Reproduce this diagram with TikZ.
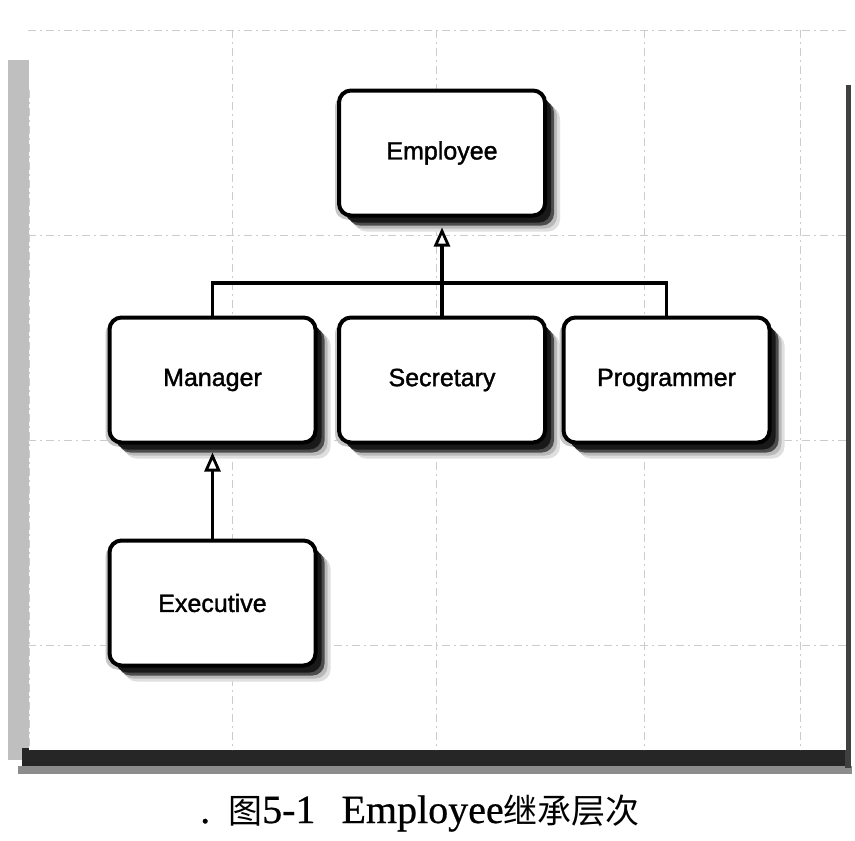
\documentclass[tikz,border=0pt]{standalone}
\usepackage{fontspec}
\setmainfont{Liberation Serif}[FakeBold=0.6]
\newfontfamily\boxfont{Liberation Sans}[FakeBold=1.4]
\newfontfamily\cjk{Noto Sans CJK SC}
\usetikzlibrary{arrows.meta}
\begin{document}
\begin{tikzpicture}[x=1pt,y=-1pt,
  cls/.style={draw, line width=4pt, rounded corners=12pt, fill=white,
    minimum width=206pt, minimum height=125pt, inner sep=0pt,
    font=\boxfont\fontsize{25}{30}\selectfont,
    preaction={fill=gray!45, transform canvas={shift={(-4pt,-4pt)}}},
    preaction={fill=gray!25, transform canvas={shift={(15pt,-16pt)}}},
    preaction={fill=gray!55, transform canvas={shift={(12pt,-13pt)}}},
    preaction={fill=black!70, transform canvas={shift={(9pt,-10pt)}}},
    preaction={fill=black!90, transform canvas={shift={(6pt,-7pt)}}}},
  link/.style={line width=3.4pt},
  inh/.style={line width=3.4pt, -{Triangle[open, length=19pt, width=16pt, line width=2.8pt]}},
  gridline/.style={gray!40, line width=0.8pt, dash pattern=on 8pt off 4pt on 2pt off 4pt}]
\useasboundingbox (0,0) rectangle (855,841);
\fill[white] (0,0) rectangle (855,841);
% page panel with its shadows
\fill[gray!50] (8,60) rectangle (29,760);
\fill[black!85] (22,748) rectangle (850,766);
\fill[black!45] (18,766) rectangle (852,774);
\fill[black!75] (845,85) rectangle (851,768);
\fill[white] (29,30) rectangle (846,750);
% faint grid
\foreach \gx in {232,436,644,800}
  \draw[gridline] (\gx,30) -- (\gx,750);
\foreach \gy in {30,235,440,645}
  \draw[gridline] (28,\gy) -- (846,\gy);
\draw[gridline] (29,90) -- (29,750);
% classes
\node[cls] (emp) at (442,153) {Employee};
\node[cls] (mgr) at (212.5,380) {Manager};
\node[cls] (sec) at (442,380) {Secretary};
\node[cls] (prg) at (666.5,380) {Programmer};
\node[cls] (exe) at (212.5,603) {Executive};
% connectors
\coordinate (bar) at (442,283);
\draw[link] (mgr.north) -- (mgr.north |- bar) -- (prg.north |- bar) -- (prg.north);
\draw[inh, shorten >=10pt] (sec.north) -- (emp.south);
\draw[inh, shorten >=8pt] (exe.north) -- (mgr.south);
% caption
\node[anchor=base west, inner sep=0pt, font=\fontsize{40}{46}\selectfont] (cap) at (200,823)
  {.\hspace{18pt}{\cjk\fontsize{34}{38}\selectfont 图}5-1\hspace{26pt}Employee{\cjk\fontsize{34}{38}\selectfont 继承层次}};
\end{tikzpicture}
\end{document}
